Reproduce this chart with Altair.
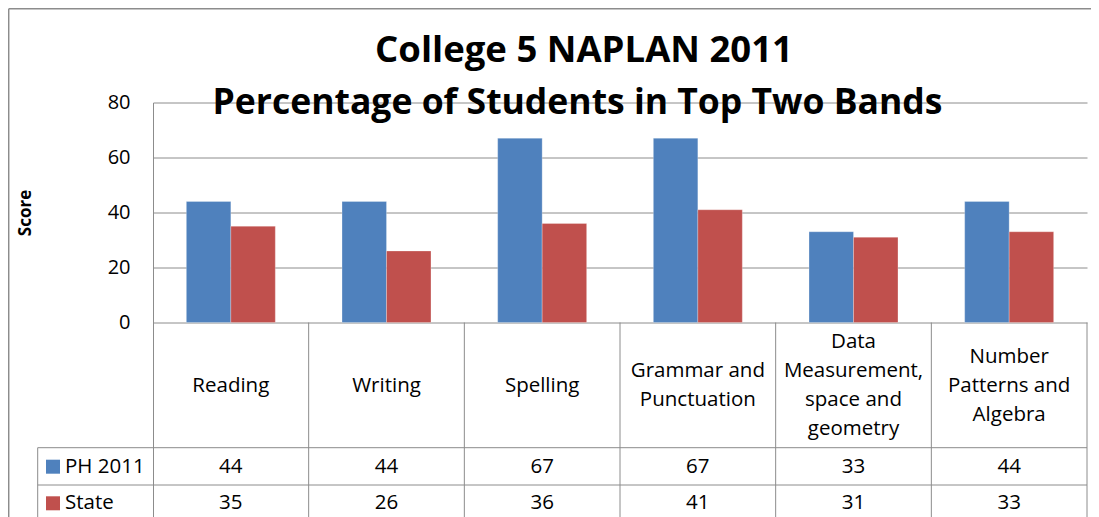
import altair as alt
import pandas as pd

# ---- data ----
categories = [
    "Reading",
    "Writing",
    "Spelling",
    "Grammar and Punctuation",
    "Data Measurement, space and geometry",
    "Number Patterns and Algebra",
]
header_lines = [
    ["Reading"],
    ["Writing"],
    ["Spelling"],
    ["Grammar and", "Punctuation"],
    ["Data", "Measurement,", "space and", "geometry"],
    ["Number", "Patterns and", "Algebra"],
]
ph_2011 = [44, 44, 67, 67, 33, 44]
state = [35, 26, 36, 41, 31, 33]
series_names = ["PH 2011", "State"]
series_colors = ["#4F81BD", "#C0504D"]
y_ticks = [0, 20, 40, 60, 80]
title_lines = ["College 5 NAPLAN 2011", "Percentage of Students in Top Two Bands"]

FONT = "Open Sans"
LINE = "#8C8C8C"
W, H = 934, 420

rows = []
for i, c in enumerate(categories):
    rows.append({"cat": c, "series": "PH 2011", "value": ph_2011[i]})
    rows.append({"cat": c, "series": "State", "value": state[i]})
df = pd.DataFrame(rows)

hrows = []
for c, lines in zip(categories, header_lines):
    n = len(lines)
    for k, t in enumerate(lines):
        hrows.append({"cat": c, "line": t, "off": k - (n - 1) / 2})
hdr = pd.DataFrame(hrows)
cats = pd.DataFrame({"cat": categories})
leg = pd.DataFrame({"series": series_names})
one = pd.DataFrame({"a": [0]})

x_scale = alt.Scale(domain=categories, paddingInner=0, paddingOuter=0)


def xcat(**kw):
    return alt.X("cat:N", sort=categories, scale=x_scale, axis=None, **kw)


color = alt.Color("series:N", scale=alt.Scale(domain=series_names, range=series_colors), legend=None)
row_y = alt.Y("series:N", scale=alt.Scale(type="point", domain=series_names, range=[364.2, 400.8], padding=0), axis=None)

bars = alt.Chart(df).mark_bar(stroke="white", strokeOpacity=0.25, strokeWidth=1).encode(
    x=xcat(),
    xOffset=alt.XOffset("series:N", sort=series_names,
                        scale=alt.Scale(domain=series_names, paddingInner=0, paddingOuter=0.75)),
    y=alt.Y("value:Q",
            scale=alt.Scale(domain=[-72.727, 80], nice=False),
            axis=alt.Axis(values=y_ticks, grid=True, gridColor=LINE, gridWidth=1,
                          domainColor=LINE, domainWidth=1, ticks=False, labelPadding=23,
                          labelFont=FONT, labelFontSize=20, labelColor="black",
                          title="Score", titleFont=FONT, titleFontSize=17, titleFontWeight="bold",
                          titleColor="black", titleAngle=270, titleBaseline="middle",
                          titleX=-128, titleY=110, titleAnchor="middle")),
    color=color,
)

header = alt.Chart(hdr).mark_text(font=FONT, fontSize=20.5, baseline="middle", align="center",
                                  color="black").encode(
    x=xcat(),
    y=alt.Y("off:Q", scale=alt.Scale(domain=[-1.5, 1.5], range=[283 - 1.5 * 29, 283 + 1.5 * 29]),
            axis=None),
    text="line:N")

values = alt.Chart(df).mark_text(font=FONT, fontSize=20.5, baseline="middle", align="center",
                                 color="black").encode(
    x=xcat(), y=row_y, text="value:Q")

leg_sq = alt.Chart(leg).mark_square(size=196, opacity=1).encode(
    x=alt.value(-100), y=row_y, color=color)
leg_tx = alt.Chart(leg).mark_text(font=FONT, fontSize=20.5, baseline="middle", align="left",
                                  color="black").encode(
    x=alt.value(-88), y=row_y, text="series:N")

col_rules = alt.Chart(cats).mark_rule(color=LINE, strokeWidth=1).encode(
    x=xcat(bandPosition=1), y=alt.value(220), y2=alt.value(H))


def rule(**enc):
    return alt.Chart(one).mark_rule(color=LINE, strokeWidth=1).encode(**enc)


hr1 = rule(x=alt.value(-115.3), x2=alt.value(W), y=alt.value(345.2))
hr2 = rule(x=alt.value(-115.3), x2=alt.value(W), y=alt.value(382.5))
vl = rule(x=alt.value(-115.3), y=alt.value(345.2), y2=alt.value(H))
ob_top = alt.Chart(one).mark_rule(color=LINE, strokeWidth=1.5).encode(
    x=alt.value(-144.3), x2=alt.value(W + 4), y=alt.value(-93.8))
ob_left = alt.Chart(one).mark_rule(color=LINE, strokeWidth=1.5).encode(
    x=alt.value(-144.3), y=alt.value(-93.8), y2=alt.value(H))

t1 = alt.Chart(pd.DataFrame({"t": [title_lines[0]]})).mark_text(
    font=FONT, fontSize=36.5, fontWeight="bold", color="black", align="center",
    baseline="alphabetic").encode(x=alt.value(431), y=alt.value(-40.8), text="t:N")
t2 = alt.Chart(pd.DataFrame({"t": [title_lines[1]]})).mark_text(
    font=FONT, fontSize=35.5, fontWeight="bold", color="black", align="center",
    baseline="alphabetic").encode(x=alt.value(424.5), y=alt.value(11.8), text="t:N")

chart = alt.layer(
    ob_top, ob_left, col_rules, hr1, hr2, vl, bars, header, values, leg_sq, leg_tx, t1, t2
).resolve_scale(y="independent").properties(
    width=W, height=H,
    autosize=alt.AutoSizeParams(type="none"),
    padding={"left": 145, "top": 94.5, "right": 4, "bottom": 0},
).configure_view(stroke=None)

chart.save("out.html", embed_options={"renderer": "svg", "actions": False})
